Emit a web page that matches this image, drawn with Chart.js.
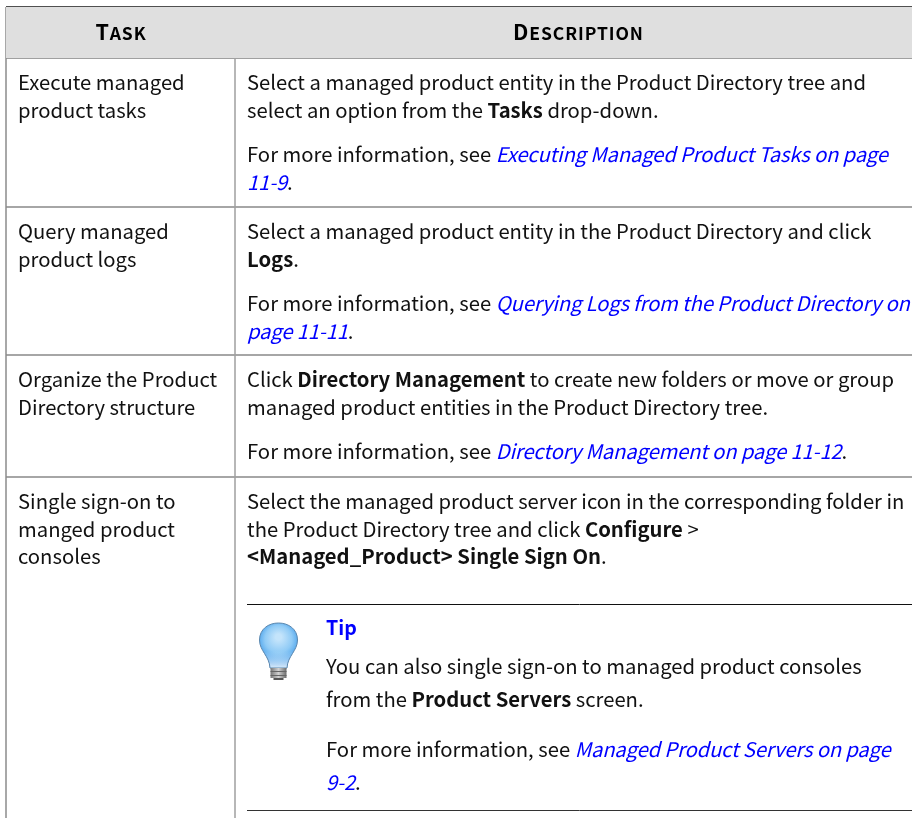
<!DOCTYPE html>
<html lang="en">
<head>
<meta charset="UTF-8">
<title>Managed product tasks</title>
<script src="https://cdn.jsdelivr.net/npm/chart.js"></script>
<style>
  html, body { margin: 0; padding: 0; background: #fff; }
  canvas { display: block; }
</style>
</head>
<body>
<canvas id="table" width="912" height="818"></canvas>
<script>
// table content. **x** is bold, [[x]] is a blue italic link
const headers = ['Task', 'Description'];
const tasks = [
    ['Execute managed', 'product tasks'],
    ['Query managed', 'product logs'],
    ['Organize the Product', 'Directory structure'],
    ['Single sign-on to', 'manged product', 'consoles']
];
const descriptions = [
    [['Select a managed product entity in the Product Directory tree and', 'select an option from the **Tasks** drop-down.'],
     ['For more information, see [[Executing Managed Product Tasks on page]]', '[[11-9]].']],
    [['Select a managed product entity in the Product Directory and click', '**Logs**.'],
     ['For more information, see [[Querying Logs from the Product Directory on]]', '[[page 11-11]].']],
    [['Click **Directory Management** to create new folders or move or group', 'managed product entities in the Product Directory tree.'],
     ['For more information, see [[Directory Management on page 11-12]].']],
    [['Select the managed product server icon in the corresponding folder in', 'the Product Directory tree and click **Configure** >', '**<Managed_Product> Single Sign On**.']]
];
const tipTitle = 'Tip';
const tipLines = [
    ['You can also single sign-on to managed product consoles', 'from the **Product Servers** screen.'],
    ['For more information, see [[Managed Product Servers on page]]', '[[9-2]].']
];

// where the rules sit, in page pixels
const columnRules = [6, 235];
const rowRules = [7, 58, 207, 355, 477];
const tipRules = [604.5, 810.5];

const FONT = '"Noto Sans CJK SC", "Noto Sans", sans-serif';
const BODY = 20.25;
const textX = [18, 247];
const tipX = 326;

function hline(y, x0, x1, color, width) {
    return { data: [{ x: x0, y: y }, { x: x1, y: y }], borderColor: color, borderWidth: width, pointRadius: 0 };
}
function vline(x, y0, y1, color, width) {
    return { data: [{ x: x, y: y0 }, { x: x, y: y1 }], borderColor: color, borderWidth: width, pointRadius: 0 };
}

const datasets = [
    // header band
    { data: [{ x: 6, y: rowRules[0] }, { x: 912, y: rowRules[0] }], borderWidth: 0, pointRadius: 0,
      fill: { target: { value: rowRules[1] } }, backgroundColor: '#dfdfdf' },
    vline(columnRules[0], rowRules[0], 818, '#8c8c8c', 1.5),
    vline(columnRules[1], rowRules[0], 818, '#a0a0a0', 1.5),
    hline(rowRules[1], 6, 912, '#808080', 1.5),
    hline(rowRules[2], 6, 912, '#a6a6a6', 2),
    hline(rowRules[3], 6, 912, '#a6a6a6', 2),
    hline(rowRules[4], 6, 912, '#a6a6a6', 2),
    hline(rowRules[0], 6, 912, '#505050', 2),
    hline(tipRules[0], columnRules[1] + 12, 912, '#111111', 1),
    hline(tipRules[1], columnRules[1] + 12, 912, '#333333', 1)
];

// split a line on the ** and [[ ]] marks and draw the runs one after the other
function drawRuns(ctx, line, x, y, size) {
    const parts = line.split(/(\*\*.+?\*\*|\[\[.+?\]\])/).filter(Boolean);
    for (const part of parts) {
        let font = size + 'px ' + FONT, color = '#111', str = part;
        ctx.letterSpacing = '0px';
        if (part.startsWith('**')) {
            str = part.slice(2, -2);
            font = 'bold ' + font;
        } else if (part.startsWith('[[')) {
            str = part.slice(2, -2);
            font = 'italic ' + font;
            color = '#0000ff';
            ctx.letterSpacing = '-0.17px'; // slanted face here runs wider than the true italic
        }
        ctx.font = font;
        ctx.fillStyle = color;
        ctx.fillText(str, x, y);
        x += ctx.measureText(str).width;
    }
    ctx.letterSpacing = '0px';
}

function drawHeader(ctx, word, cx, y) {
    const big = 'bold 21.5px ' + FONT, small = 'bold 17.5px ' + FONT;
    const first = word[0].toUpperCase(), rest = word.slice(1).toUpperCase();
    ctx.letterSpacing = '0.9px';
    ctx.font = big;
    const w1 = ctx.measureText(first).width;
    ctx.font = small;
    const w2 = ctx.measureText(rest).width;
    const start = cx - (w1 + w2) / 2;
    ctx.fillStyle = '#000';
    ctx.font = big;
    ctx.fillText(first, start, y);
    ctx.font = small;
    ctx.fillText(rest, start + w1, y);
    ctx.letterSpacing = '0px';
}

function drawBulb(ctx, cx, top) {
    ctx.save();
    ctx.beginPath();
    ctx.moveTo(cx - 8.5, top + 45);
    ctx.bezierCurveTo(cx - 9, top + 33, cx - 19, top + 28, cx - 19, top + 17);
    ctx.bezierCurveTo(cx - 19, top + 6, cx - 10, top, cx, top);
    ctx.bezierCurveTo(cx + 10, top, cx + 19, top + 6, cx + 19, top + 17);
    ctx.bezierCurveTo(cx + 19, top + 28, cx + 9, top + 33, cx + 8.5, top + 45);
    ctx.closePath();
    const glass = ctx.createRadialGradient(cx, top + 14, 3, cx, top + 18, 24);
    glass.addColorStop(0, '#c4e4fb');
    glass.addColorStop(0.5, '#90cbf6');
    glass.addColorStop(0.85, '#4da3ec');
    glass.addColorStop(1, '#3b8fe0');
    ctx.fillStyle = glass;
    ctx.fill();
    // neck fades out towards the base
    const fade = ctx.createLinearGradient(0, top + 28, 0, top + 45);
    fade.addColorStop(0, 'rgba(225,240,252,0)');
    fade.addColorStop(1, 'rgba(225,240,252,0.95)');
    ctx.fillStyle = fade;
    ctx.fill();
    ctx.strokeStyle = '#5a86ad';
    ctx.lineWidth = 1;
    ctx.stroke();
    // screw base
    const base = ctx.createLinearGradient(cx - 8, 0, cx + 8, 0);
    base.addColorStop(0, '#777777');
    base.addColorStop(0.5, '#d0d0d0');
    base.addColorStop(1, '#6c6c6c');
    ctx.fillStyle = base;
    ctx.fillRect(cx - 8, top + 45, 16, 10);
    ctx.fillStyle = '#666666';
    ctx.fillRect(cx - 8, top + 48, 16, 1);
    ctx.fillRect(cx - 8, top + 52, 16, 1);
    ctx.fillStyle = '#555555';
    ctx.fillRect(cx - 5, top + 55, 10, 2);
    ctx.restore();
}

const tableText = {
    id: 'tableText',
    afterDatasetsDraw(chart) {
        const ctx = chart.ctx, sx = chart.scales.x, sy = chart.scales.y;
        const px = function (v) { return sx.getPixelForValue(v); };
        const py = function (v) { return sy.getPixelForValue(v); };
        ctx.save();
        ctx.textBaseline = 'alphabetic';

        drawHeader(ctx, headers[0], px(121), py(40));
        drawHeader(ctx, headers[1], px(578.5), py(40));

        const leading = 27.5, gap = 17, first = 32.4;
        tasks.forEach(function (lines, r) {
            lines.forEach(function (line, i) {
                drawRuns(ctx, line, px(textX[0]), py(rowRules[r + 1] + first + i * leading), BODY);
            });
        });
        descriptions.forEach(function (paras, r) {
            let y = rowRules[r + 1] + first;
            paras.forEach(function (lines) {
                lines.forEach(function (line) {
                    drawRuns(ctx, line, px(textX[1]), py(y), BODY);
                    y += leading;
                });
                y += gap;
            });
        });

        // tip box
        ctx.font = 'bold 19.6px ' + FONT;
        ctx.fillStyle = '#0000ff';
        ctx.fillText(tipTitle, px(tipX), py(635));
        let y = 674;
        tipLines.forEach(function (lines) {
            lines.forEach(function (line) {
                drawRuns(ctx, line, px(tipX), py(y), BODY);
                y += 33;
            });
            y += 17;
        });
        drawBulb(ctx, px(278.5), py(623));
        ctx.restore();
    }
};

new Chart(document.getElementById('table'), {
    type: 'line',
    data: { datasets: datasets },
    plugins: [tableText],
    options: {
        responsive: false,
        animation: false,
        parsing: false,
        layout: { padding: 0 },
        plugins: { legend: { display: false }, tooltip: { enabled: false } },
        scales: {
            x: { type: 'linear', min: 0, max: 912, display: false },
            y: { type: 'linear', min: 0, max: 818, reverse: true, display: false }
        }
    }
});
</script>
</body>
</html>
